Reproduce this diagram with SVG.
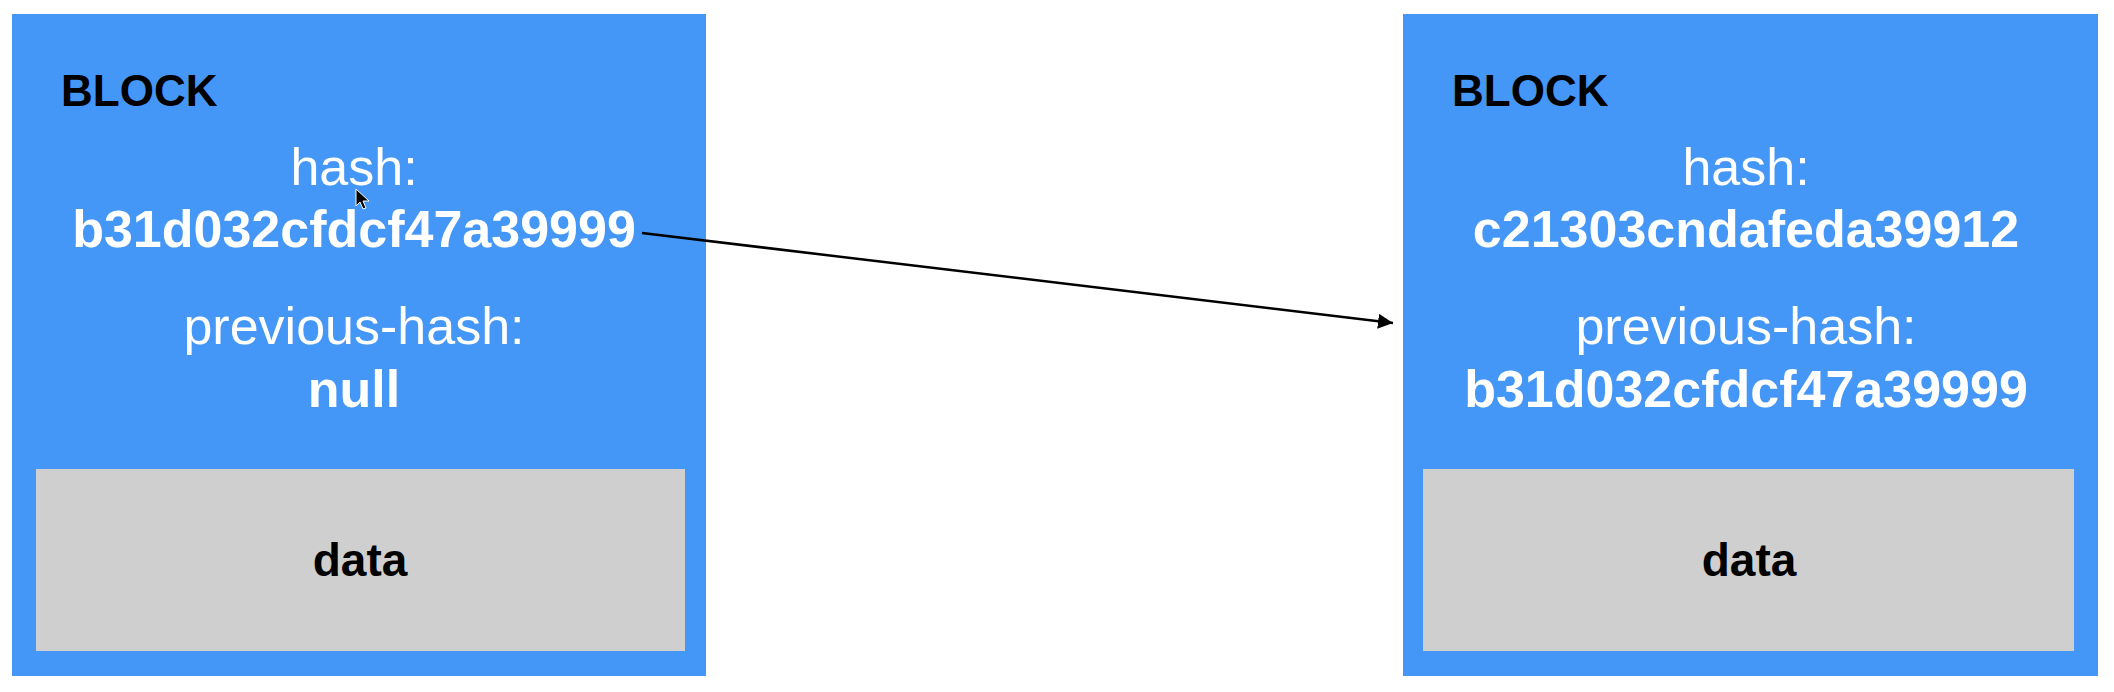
<svg xmlns="http://www.w3.org/2000/svg" width="2114" height="692" viewBox="0 0 2114 692">
  <style>
    .box { fill: #4597F7; }
    .data { fill: #CFCFCF; }
    .title { font-family: "Liberation Sans", Arial, Helvetica, sans-serif; font-weight: bold; font-size: 44px; fill: #000000; }
    .label { font-family: "Liberation Sans", Arial, Helvetica, sans-serif; font-size: 52px; fill: #FFFFFF; text-anchor: middle; }
    .value { font-family: "Liberation Sans", Arial, Helvetica, sans-serif; font-weight: bold; font-size: 52px; fill: #FFFFFF; text-anchor: middle; }
    .datatext { font-family: "Liberation Sans", Arial, Helvetica, sans-serif; font-weight: bold; font-size: 46px; fill: #000000; text-anchor: middle; }
    .conn { stroke: #000000; stroke-width: 2.5; fill: none; }
  </style>
  <defs>
    <marker id="arrow" markerUnits="userSpaceOnUse" markerWidth="17" markerHeight="15" refX="15" refY="7.5" orient="auto">
      <path d="M0,0 L15,7.5 L0,15 Z" fill="#000000"/>
    </marker>
  </defs>
  <rect x="0" y="0" width="2114" height="692" fill="#FFFFFF"/>

  <g id="block1">
    <rect class="box" x="12" y="14" width="694" height="662"/>
    <text class="title" x="61" y="106">BLOCK</text>
    <text class="label" x="354" y="185">hash:</text>
    <text class="value" x="354" y="247">b31d032cfdcf47a39999</text>
    <text class="label" x="354" y="344">previous-hash:</text>
    <text class="value" x="354" y="407">null</text>
    <g id="block1-data">
      <rect class="data" x="36" y="469" width="649" height="182"/>
      <text class="datatext" x="360" y="576">data</text>
    </g>
  </g>

  <g id="block2">
    <rect class="box" x="1403" y="14" width="695" height="662"/>
    <text class="title" x="1452" y="106">BLOCK</text>
    <text class="label" x="1746" y="185">hash:</text>
    <text class="value" x="1746" y="247">c21303cndafeda39912</text>
    <text class="label" x="1746" y="344">previous-hash:</text>
    <text class="value" x="1746" y="407">b31d032cfdcf47a39999</text>
    <g id="block2-data">
      <rect class="data" x="1423" y="469" width="651" height="182"/>
      <text class="datatext" x="1749" y="576">data</text>
    </g>
  </g>

  <g id="connectors">
    <line class="conn" x1="642" y1="233" x2="1393" y2="323" marker-end="url(#arrow)"/>
  </g>

  <path d="M356,189 L356,206 L360,202 L363,209 L366,208 L363,201 L369,201 Z" fill="#000000" stroke="#FFFFFF" stroke-width="1"/>
</svg>
